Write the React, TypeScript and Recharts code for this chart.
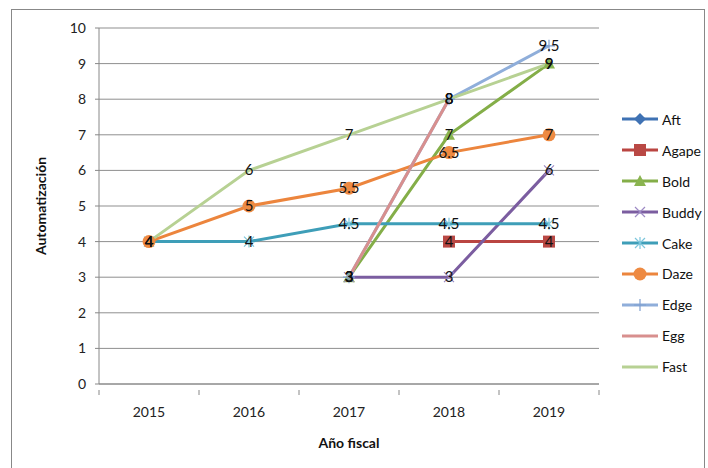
import React from 'react'
import { LineChart, Line, XAxis, YAxis, CartesianGrid, LabelList } from 'recharts'

const years = ['2015', '2016', '2017', '2018', '2019']
const yTicks = [0, 1, 2, 3, 4, 5, 6, 7, 8, 9, 10]

const aft: (number | null)[] = [null, null, null, null, null]
const agape: (number | null)[] = [null, null, null, 4, 4]
const bold: (number | null)[] = [null, null, 3, 7, 9]
const buddy: (number | null)[] = [null, null, 3, 3, 6]
const cake: (number | null)[] = [4, 4, 4.5, 4.5, 4.5]
const daze: (number | null)[] = [4, 5, 5.5, 6.5, 7]
const edge: (number | null)[] = [null, null, 3, 8, 9.5]
const egg: (number | null)[] = [null, null, 3, 8, null]
const fast: (number | null)[] = [4, 6, 7, 8, 9]

const SERIES = [
  { name: 'Aft', values: aft, color: '#3F72B4', marker: 'diamond', mcolor: '#3F72B4' },
  { name: 'Agape', values: agape, color: '#BA4541', marker: 'square', mcolor: '#B94844' },
  { name: 'Bold', values: bold, color: '#84AE48', marker: 'triangle', mcolor: '#8AB450' },
  { name: 'Buddy', values: buddy, color: '#7B5DA0', marker: 'x', mcolor: '#9d8ac4' },
  { name: 'Cake', values: cake, color: '#3E9EB8', marker: 'star', mcolor: '#7cc6dc' },
  { name: 'Daze', values: daze, color: '#EC853D', marker: 'circle', mcolor: '#EE8A42' },
  { name: 'Edge', values: edge, color: '#8FAEDA', marker: 'plus', mcolor: '#7f9fd0' },
  { name: 'Egg', values: egg, color: '#D88F8E', marker: 'none', mcolor: '#D88F8E' },
  { name: 'Fast', values: fast, color: '#B7D193', marker: 'none', mcolor: '#B7D193' },
]

const data = years.map((y, i) => {
  const row: Record<string, unknown> = { year: y }
  SERIES.forEach((s) => { row[s.name] = s.values[i] })
  return row
})

const FONT = 'Lato, "Open Sans", sans-serif'

function Marker({ type, x, y, color }: { type: string; x: number; y: number; color: string }) {
  switch (type) {
    case 'diamond':
      return <path d={`M${x},${y - 6}L${x + 6},${y}L${x},${y + 6}L${x - 6},${y}Z`} fill={color} />
    case 'square':
      return <rect x={x - 6} y={y - 6} width={12} height={12} fill={color} />
    case 'triangle':
      return <path d={`M${x},${y - 6}L${x + 6},${y + 5}L${x - 6},${y + 5}Z`} fill={color} />
    case 'x':
      return <path d={`M${x - 5},${y - 5}L${x + 5},${y + 5}M${x - 5},${y + 5}L${x + 5},${y - 5}`} stroke={color} strokeWidth={1.2} />
    case 'star':
      return <path d={`M${x - 5},${y - 5}L${x + 5},${y + 5}M${x - 5},${y + 5}L${x + 5},${y - 5}M${x},${y - 6}L${x},${y + 6}`} stroke={color} strokeWidth={1.2} />
    case 'circle':
      return <circle cx={x} cy={y} r={6.5} fill={color} />
    case 'plus':
      return <path d={`M${x},${y - 6}L${x},${y + 6}M${x - 6},${y}L${x + 6},${y}`} stroke={color} strokeWidth={1.2} />
    default:
      return null
  }
}

const makeDot = (type: string, color: string) => (props: any) => {
  const { cx, cy, index, value } = props
  if (value == null || cy == null || type === 'none') return <g key={`d${index}`} />
  return <g key={`d${index}`}><Marker type={type} x={cx} y={cy} color={color} /></g>
}

const DataLabel = (props: any) => {
  const { x, y, value } = props
  if (value == null || x == null || y == null) return null
  return (
    <text x={x} y={y + 5} textAnchor="middle" fontSize={15} fill="#111" fontFamily={FONT}>
      {value}
    </text>
  )
}

const XTick = (props: any) => {
  const { x, y, payload, index } = props
  return (
    <g>
      <line x1={x - 50} x2={x - 50} y1={y - 18} y2={y - 13} stroke="#888" />
      {index === years.length - 1 && <line x1={x + 50} x2={x + 50} y1={y - 18} y2={y - 13} stroke="#888" />}
      <text x={x} y={y + 9} textAnchor="middle" fontSize={14} fill="#222" fontFamily={FONT}>
        {payload.value}
      </text>
    </g>
  )
}

const LegendBox = () => (
  <div style={{ position: 'absolute', left: 622, top: 104, fontFamily: FONT, fontSize: 14, color: '#111' }}>
    {SERIES.map((s) => (
      <div key={s.name} style={{ display: 'flex', alignItems: 'center', height: 30.9 }}>
        <svg width={38} height={16} style={{ marginRight: 2 }}>
          <line x1={0} x2={36} y1={8} y2={8} stroke={s.color} strokeWidth={3} />
          <Marker type={s.marker} x={18} y={8} color={s.mcolor} />
        </svg>
        <span>{s.name}</span>
      </div>
    ))}
  </div>
)

export default function App() {
  return (
    <div style={{ position: 'absolute', left: 0, top: 0, width: 708, height: 468, background: '#fff', overflow: 'hidden' }}>
      <div style={{ position: 'absolute', left: 11, top: 9, width: 694, height: 470, border: '1px solid #888', boxSizing: 'border-box' }} />
      <div style={{ position: 'absolute', left: 0, top: 0 }}>
        <LineChart width={708} height={468} data={data} margin={{ top: 28, right: 109, bottom: 0, left: 0 }}>
          <CartesianGrid vertical={false} stroke="#8f8f8f" />
          <XAxis
            dataKey="year"
            padding={{ left: 50, right: 50 }}
            tickLine={false}
            axisLine={{ stroke: '#888' }}
            tick={<XTick />}
            tickMargin={18}
            height={84}
            label={{
              content: (p: any) => (
                <text x={p.viewBox.x + p.viewBox.width / 2} y={448} textAnchor="middle" fontSize={14} fontWeight="bold" fill="#111" fontFamily={FONT}>
                  Año fiscal
                </text>
              ),
            }}
          />
          <YAxis
            width={99}
            domain={[0, 10]}
            ticks={yTicks}
            interval={0}
            tickSize={4}
            tickMargin={9}
            axisLine={{ stroke: '#888' }}
            tickLine={{ stroke: '#888' }}
            tick={{ fontSize: 14, fill: '#222', fontFamily: FONT }}
            label={{
              content: (p: any) => (
                <text
                  x={46}
                  y={p.viewBox.y + p.viewBox.height / 2}
                  transform={`rotate(-90, 46, ${p.viewBox.y + p.viewBox.height / 2})`}
                  textAnchor="middle"
                  fontSize={14}
                  fontWeight="bold"
                  fill="#111"
                  fontFamily={FONT}
                >
                  Automatización
                </text>
              ),
            }}
          />
          {SERIES.map((s) => (
            <Line
              key={s.name}
              dataKey={s.name}
              stroke={s.color}
              strokeWidth={3}
              dot={makeDot(s.marker, s.mcolor)}
              activeDot={false}
              isAnimationActive={false}
            >
              <LabelList dataKey={s.name} content={<DataLabel />} />
            </Line>
          ))}
        </LineChart>
      </div>
      <LegendBox />
    </div>
  )
}
